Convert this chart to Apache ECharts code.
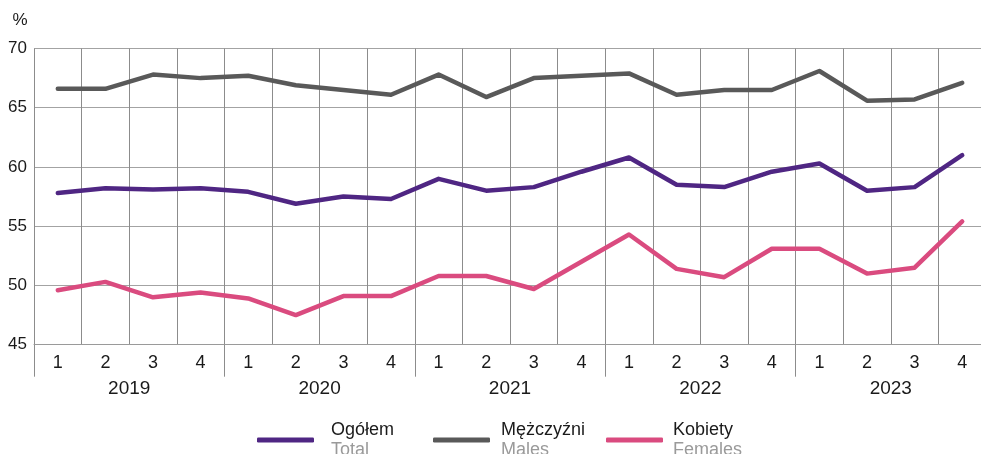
<!DOCTYPE html>
<html><head><meta charset="utf-8">
<script src="https://cdn.jsdelivr.net/npm/echarts@6/dist/echarts.min.js"></script>
<style>html,body{margin:0;padding:0;background:#fff}#c{width:981px;height:454px}</style>
</head><body><div id="c"></div>
<script>
const quarters = ['1','2','3','4','1','2','3','4','1','2','3','4','1','2','3','4','1','2','3','4'];
const years = ['2019','2020','2021','2022','2023'];
const total = [57.8,58.2,58.1,58.2, 57.9,56.9,57.5,57.3, 59.0,58.0,58.3,59.6, 60.8,58.5,58.3,59.6, 60.3,58.0,58.3,61.0];
const males = [66.6,66.6,67.8,67.5, 67.7,66.9,66.5,66.1, 67.8,65.9,67.5,67.7, 67.9,66.1,66.5,66.5, 68.1,65.6,65.7,67.1];
const females = [49.6,50.3,49.0,49.4, 48.9,47.5,49.1,49.1, 50.8,50.8,49.7,52.0, 54.3,51.4,50.7,53.1, 53.1,51.0,51.5,55.4];
const seriesNames = ['Ogółem','Mężczyźni','Kobiety'];
const seriesSub = ['Total','Males','Females'];
const colors = ['#4f2683','#595959','#da4b7f'];
const yTicks = {min:45, max:70, interval:5};

const font = '"Liberation Sans", Arial, sans-serif';
const chart = echarts.init(document.getElementById('c'), null, {renderer:'canvas'});
function mkLegend(i, left, pad){
  return {
    data:[seriesNames[i]], left:left, top:416, orient:'horizontal',
    icon:'roundRect', itemWidth:57, itemHeight:5,
    formatter: n => '{a|' + n + '}\n{b|' + seriesSub[i] + '}',
    textStyle:{fontFamily:font, rich:{
      a:{fontSize:18, color:'#1a1a1a', padding:[0,0,0,pad], lineHeight:20, fontFamily:font},
      b:{fontSize:18, color:'#9a9a9a', padding:[0,0,0,pad], lineHeight:20, fontFamily:font}
    }}
  };
}
chart.setOption({
  animation:false,
  color: colors,
  grid:{left:34, width:952, top:48.5, bottom:109.3, containLabel:false, outerBoundsMode:'none'},
  legend:[mkLegend(0,252,12), mkLegend(1,428,6), mkLegend(2,601,5)],
  xAxis:[
    {type:'category', data:quarters, boundaryGap:true, position:'bottom',
     axisLine:{show:true, lineStyle:{color:'#9a9a9a', width:1}},
     axisTick:{show:false},
     axisLabel:{color:'#1a1a1a', fontSize:18, margin:9, fontFamily:font, interval:0},
     splitLine:{show:true, interval:0, lineStyle:{color:'#8c8c8c', width:1}}},
    {type:'category', data:years, boundaryGap:true, position:'bottom', offset:0,
     axisLine:{show:false},
     axisTick:{show:true, length:32, interval:0, lineStyle:{color:'#8c8c8c', width:1}},
     axisLabel:{color:'#1a1a1a', fontSize:19, margin:35, fontFamily:font, interval:0},
     splitLine:{show:false}}
  ],
  yAxis:{type:'value', min:yTicks.min, max:yTicks.max, interval:yTicks.interval,
    name:'%', nameLocation:'end', nameGap:20, nameTextStyle:{color:'#1a1a1a', fontSize:17, fontFamily:font, align:'center', padding:[0,0,0,-28]},
    axisLine:{show:false}, axisTick:{show:false},
    axisLabel:{color:'#1a1a1a', fontSize:17, margin:7, fontFamily:font},
    splitLine:{show:true, lineStyle:{color:'#a3a3a3', width:1}}},
  series:[
    {name:seriesNames[0], type:'line', data:total, xAxisIndex:0, showSymbol:false, symbol:'none', lineStyle:{width:4.5, color:colors[0], cap:'round', join:'round'}},
    {name:seriesNames[1], type:'line', data:males, xAxisIndex:0, showSymbol:false, symbol:'none', lineStyle:{width:4.5, color:colors[1], cap:'round', join:'round'}},
    {name:seriesNames[2], type:'line', data:females, xAxisIndex:0, showSymbol:false, symbol:'none', lineStyle:{width:4.5, color:colors[2], cap:'round', join:'round'}}
  ]
});
</script></body></html>
